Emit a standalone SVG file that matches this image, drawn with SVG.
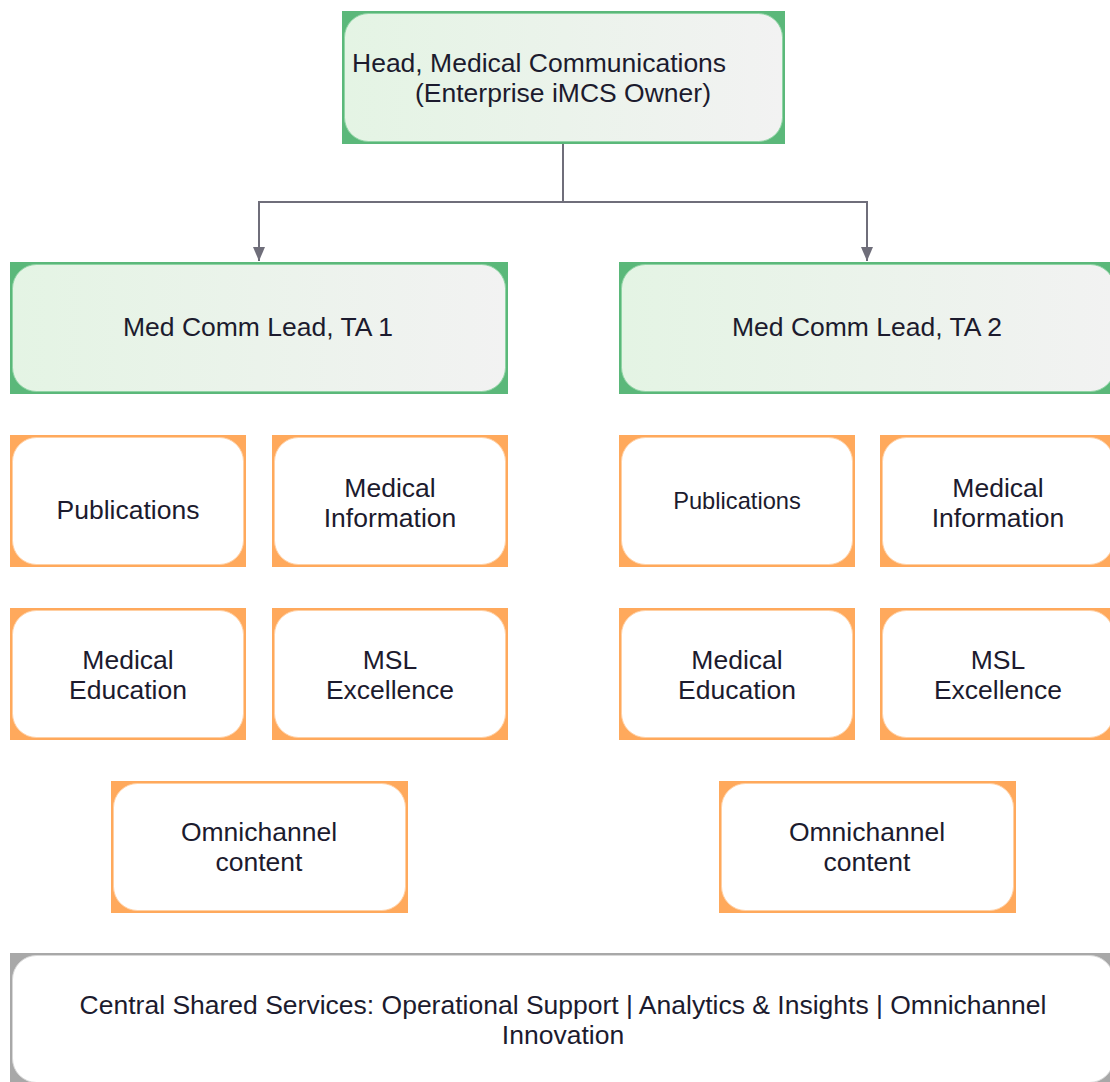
<svg xmlns="http://www.w3.org/2000/svg" width="1110" height="1082" viewBox="0 0 1110 1082">
<defs>
<linearGradient id="gg" x1="0" y1="0" x2="1" y2="0">
<stop offset="0" stop-color="#e4f4e4"/>
<stop offset="1" stop-color="#f2f2f2"/>
</linearGradient>
<marker id="ah" viewBox="0 0 14 12" refX="14" refY="6" markerWidth="14" markerHeight="12" markerUnits="userSpaceOnUse" orient="auto">
<path d="M0,0 L14,6 L0,12 Z" fill="#6f6e7a"/>
</marker>
<style>
.go{fill:#5bb87a}
.gi{fill:url(#gg);stroke:#8fd4a4;stroke-width:1}
.oo{fill:#ffa95c}
.oi{fill:#ffffff;stroke:#ffd0a4;stroke-width:1}
.yo{fill:#a8a8a8}
.yi{fill:#ffffff;stroke:#d8d8d8;stroke-width:1}
text{font-family:"Liberation Sans",Arial,sans-serif;font-size:26.5px;fill:#1c1b2e}
.c{text-anchor:middle}
.conn{fill:none;stroke:#6f6e7a;stroke-width:2}
</style>
</defs>
<rect width="1110" height="1082" fill="#ffffff"/>
<g id="connectors">
<path class="conn" d="M563,144 V202 H259 V261" marker-end="url(#ah)"/>
<path class="conn" d="M563,202 H867 V261" marker-end="url(#ah)"/>
</g>
<g id="head">
<rect class="go" x="342" y="11" width="443" height="133"/>
<rect class="gi" x="344.5" y="13.5" width="438" height="128" rx="24"/>
<text x="352" y="72">Head, Medical Communications</text>
<text x="415" y="102">(Enterprise iMCS Owner)</text>
</g>
<g id="lead1">
<rect class="go" x="10" y="262" width="498" height="132"/>
<rect class="gi" x="12.5" y="264.5" width="493" height="127" rx="24"/>
<text class="c" x="258" y="336">Med Comm Lead, TA 1</text>
</g>
<g id="lead2">
<rect class="go" x="619" y="262" width="498" height="132"/>
<rect class="gi" x="621.5" y="264.5" width="493" height="127" rx="24"/>
<text class="c" x="867" y="336">Med Comm Lead, TA 2</text>
</g>
<g id="pub1">
<rect class="oo" x="10" y="435" width="236" height="132"/>
<rect class="oi" x="12.5" y="437.5" width="231" height="127" rx="24"/>
<text class="c" x="128" y="519">Publications</text>
</g>
<g id="medinfo1">
<rect class="oo" x="272" y="435" width="236" height="132"/>
<rect class="oi" x="274.5" y="437.5" width="231" height="127" rx="24"/>
<text class="c" x="390" y="497">Medical</text>
<text class="c" x="390" y="527">Information</text>
</g>
<g id="pub2">
<rect class="oo" x="619" y="435" width="236" height="132"/>
<rect class="oi" x="621.5" y="437.5" width="231" height="127" rx="24"/>
<text class="c" x="737" y="509" style="font-size:23.7px">Publications</text>
</g>
<g id="medinfo2">
<rect class="oo" x="880" y="435" width="236" height="132"/>
<rect class="oi" x="882.5" y="437.5" width="231" height="127" rx="24"/>
<text class="c" x="998" y="497">Medical</text>
<text class="c" x="998" y="527">Information</text>
</g>
<g id="medEd1">
<rect class="oo" x="10" y="608" width="236" height="132"/>
<rect class="oi" x="12.5" y="610.5" width="231" height="127" rx="24"/>
<text class="c" x="128" y="669">Medical</text>
<text class="c" x="128" y="699">Education</text>
</g>
<g id="msl1">
<rect class="oo" x="272" y="608" width="236" height="132"/>
<rect class="oi" x="274.5" y="610.5" width="231" height="127" rx="24"/>
<text class="c" x="390" y="669">MSL</text>
<text class="c" x="390" y="699">Excellence</text>
</g>
<g id="medEd2">
<rect class="oo" x="619" y="608" width="236" height="132"/>
<rect class="oi" x="621.5" y="610.5" width="231" height="127" rx="24"/>
<text class="c" x="737" y="669">Medical</text>
<text class="c" x="737" y="699">Education</text>
</g>
<g id="msl2">
<rect class="oo" x="880" y="608" width="236" height="132"/>
<rect class="oi" x="882.5" y="610.5" width="231" height="127" rx="24"/>
<text class="c" x="998" y="669">MSL</text>
<text class="c" x="998" y="699">Excellence</text>
</g>
<g id="omni1">
<rect class="oo" x="111" y="781" width="297" height="132"/>
<rect class="oi" x="113.5" y="783.5" width="292" height="127" rx="24"/>
<text class="c" x="259" y="841">Omnichannel</text>
<text class="c" x="259" y="871">content</text>
</g>
<g id="omni2">
<rect class="oo" x="719" y="781" width="297" height="132"/>
<rect class="oi" x="721.5" y="783.5" width="292" height="127" rx="24"/>
<text class="c" x="867" y="841">Omnichannel</text>
<text class="c" x="867" y="871">content</text>
</g>
<g id="shared">
<rect class="yo" x="10" y="953" width="1106" height="132"/>
<rect class="yi" x="12.5" y="955.5" width="1101" height="127" rx="24"/>
<text class="c" x="563" y="1014">Central Shared Services: Operational Support | Analytics &amp; Insights | Omnichannel</text>
<text class="c" x="563" y="1044">Innovation</text>
</g>
</svg>
